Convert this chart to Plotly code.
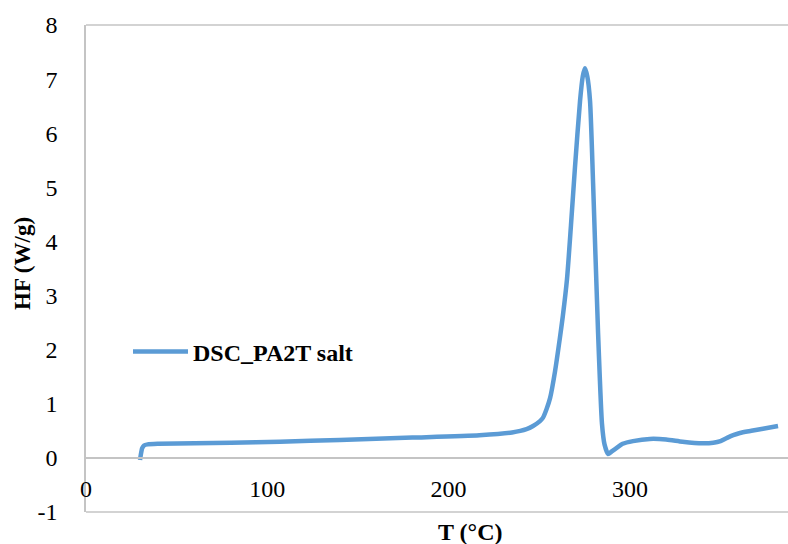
import plotly.graph_objects as go

# DSC heating scan of the PA2T salt
temp_c = [29.8, 30.2, 31.0, 32.0, 34.0, 40.0, 60.0, 80.0, 107.0, 140.0, 180.0,
          217.0, 235.0, 243.0, 246.6, 250.4, 252.0, 254.0, 256.0, 258.7, 261.4,
          263.0, 265.3, 267.5, 269.7, 272.5, 274.0, 275.2, 276.5, 278.0,
          279.7, 282.4, 284.6, 286.0, 288.0, 290.0, 292.9, 296.0, 301.7,
          311.0, 320.0, 329.0, 340.0, 346.0, 350.0, 353.6, 357.0, 360.7, 367.0,
          373.4, 381.7]
heat_flow = [-0.04, 0.05, 0.18, 0.23, 0.25, 0.26, 0.27, 0.28, 0.30, 0.33, 0.375,
             0.42, 0.47, 0.53, 0.59, 0.68, 0.74, 0.90, 1.11, 1.60, 2.22,
             2.62, 3.30, 4.30, 5.37, 6.60, 7.05, 7.20, 7.05, 6.60,
             5.07, 2.35, 0.63, 0.25, 0.07, 0.12, 0.19, 0.26, 0.31,
             0.35, 0.34, 0.30, 0.27, 0.28, 0.31, 0.37, 0.42, 0.46, 0.50,
             0.54, 0.59]
series_name = "DSC_PA2T salt"
x_ticks = [0, 100, 200, 300]
y_ticks = [-1, 0, 1, 2, 3, 4, 5, 6, 7, 8]
y_tick_labels = ["-1", "0", "1", "2", "3", "4", "5", "6", "7", "8"]

SERIF = "Liberation Serif, Times New Roman, serif"
GRID = "#C4C4C4"
BLUE = "#5B9BD5"

fig = go.Figure()
fig.add_trace(go.Scatter(
    x=temp_c, y=heat_flow, mode="lines", name=series_name,
    line=dict(color=BLUE, width=4.5, shape="spline", smoothing=0.6),
))

x_range = [0, 387.2]
y_range = [-1, 8]

fig.update_layout(
    width=788, height=544,
    margin=dict(l=86, r=0, t=25, b=32),
    paper_bgcolor="white", plot_bgcolor="white",
    font=dict(family=SERIF, size=24, color="black"),
    showlegend=True,
    legend=dict(
        x=(128 - 86) / 702, y=(512 - 352) / 487, xanchor="left", yanchor="middle",
        bgcolor="rgba(0,0,0,0)", itemwidth=55,
        font=dict(family=SERIF, size=24, color="black", weight="bold"),
    ),
    xaxis=dict(
        range=x_range, tickvals=x_ticks, showgrid=False, zeroline=False,
        showline=True, linecolor=GRID, linewidth=1.5,
        anchor="free", position=(0 - y_range[0]) / (y_range[1] - y_range[0]),
        ticks="outside", ticklen=0, ticklabelstandoff=10,
        tickfont=dict(family=SERIF, size=24),
    ),
    yaxis=dict(
        range=y_range, tickvals=y_ticks, ticktext=y_tick_labels,
        showgrid=False, zeroline=False,
        showline=True, linecolor=GRID, linewidth=1.5,
        ticks="", ticklabelstandoff=22,
        tickfont=dict(family=SERIF, size=24),
    ),
    shapes=[
        dict(type="line", xref="paper", yref="paper", x0=0, x1=1.05, y0=1, y1=1,
             line=dict(color=GRID, width=1.5)),
        dict(type="line", xref="paper", yref="paper", x0=0, x1=1.05, y0=0, y1=0,
             line=dict(color=GRID, width=1.5)),
    ],
    annotations=[
        dict(text="<b>T (°C)</b>", xref="paper", yref="paper",
             x=(470 - 86) / 702, y=(512 - 532) / 487, xanchor="center", yanchor="middle",
             showarrow=False, font=dict(family=SERIF, size=24)),
        dict(text="<b>HF (W/g)</b>", xref="paper", yref="paper",
             x=(22 - 86) / 702, y=(512 - 264) / 487, xanchor="center", yanchor="middle",
             textangle=-90, showarrow=False, font=dict(family=SERIF, size=23)),
    ],
)

fig.write_html("out.html")
